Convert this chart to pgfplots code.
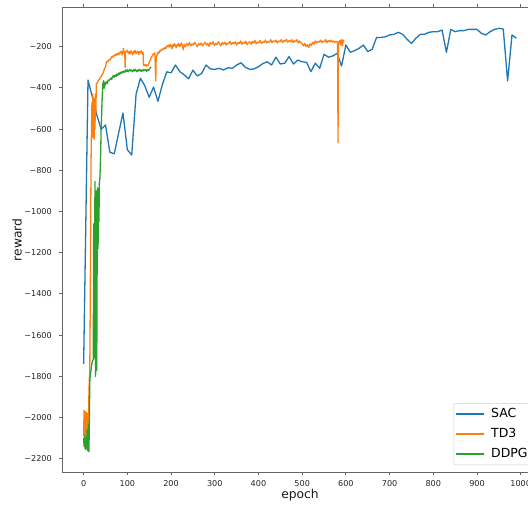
\documentclass[border=0pt]{standalone}
\usepackage{pgfplots}
\pgfplotsset{compat=1.18}
\usepackage{fontspec}
\setmainfont{DejaVu Sans}
\definecolor{tabblue}{HTML}{1F77B4}
\definecolor{taborange}{HTML}{FF7F0E}
\definecolor{tabgreen}{HTML}{2CA02C}
\begin{document}
\begin{tikzpicture}
\begin{axis}[
  at={(0,0)}, anchor=south west,
  scale only axis, width=476pt, height=464.5pt,
  xmin=-49.5, xmax=1039.5, ymin=-2264.6, ymax=-9.7,
  xtick={0,100,200,300,400,500,600,700,800,900,1000},
  xticklabels={0,100,200,300,400,500,600,700,800,900,1000},
  ytick={-2200,-2000,-1800,-1600,-1400,-1200,-1000,-800,-600,-400,-200},
  yticklabels={−2200,−2000,−1800,−1600,−1400,−1200,−1000,−800,−600,−400,−200},
  tick align=outside, major tick length=3pt,
  tick style={black!60, line width=0.8pt},
  axis line style={black!60, line width=0.8pt},
  ticklabel style={font=\fontsize{8.1}{9}\selectfont, text=black!85},
  xticklabel style={inner sep=0pt, yshift=-5.5pt},
  yticklabel style={inner sep=0pt, xshift=-7pt},
  xlabel={epoch}, ylabel={reward},
  label style={font=\fontsize{12.3}{14}\selectfont, text=black!90},
  xlabel style={at={(axis description cs:0.5,-0.0495)}, anchor=center},
  ylabel style={at={(axis description cs:-0.0945,0.5)}, anchor=center, rotate=0},
  legend cell align=left,
  legend image code/.code={\draw[#1, line width=1.3pt] (0pt,0pt) -- (28pt,0pt);},
  legend style={at={(axis description cs:0.985,0.015)}, anchor=south east,
    draw=black!20, rounded corners=2pt, fill=white,
    font=\fontsize{12.5}{14}\selectfont, inner xsep=1pt, inner ysep=3pt,
    row sep=4.5pt, column sep=5pt,
    nodes={inner sep=2pt, text height=9pt, text depth=2.5pt}},
]
\addplot[tabblue, line width=1.3pt, line join=round] coordinates {
(0,-1740)(10,-362)(20,-445)(30,-530)(40,-601)(50,-580)(60,-712)(70,-720)(80,-620)(90,-522)
(100,-700)(110,-726)(120,-430)(130,-353)(140,-390)(150,-445)(160,-396)(170,-465)(180,-385)(190,-322)
(200,-327)(210,-289)(220,-321)(230,-337)(240,-356)(250,-314)(260,-342)(270,-330)(280,-289)(290,-308)
(300,-310)(310,-305)(320,-313)(330,-302)(340,-305)(350,-289)(360,-278)(370,-300)(380,-310)(390,-308)
(400,-297)(410,-282)(420,-273)(430,-289)(440,-251)(450,-284)(460,-280)(470,-248)(480,-284)(490,-265)
(500,-273)(510,-276)(520,-321)(530,-280)(540,-305)(550,-237)(560,-251)(570,-245)(580,-232)(590,-294)
(600,-192)(610,-227)(620,-219)(630,-208)(640,-192)(650,-224)(660,-213)(670,-156)(680,-155)(690,-152)
(700,-143)(710,-140)(720,-130)(730,-140)(740,-164)(750,-184)(760,-159)(770,-140)(780,-140)(790,-130)
(800,-127)(810,-127)(820,-119)(830,-227)(840,-116)(850,-127)(860,-122)(870,-122)(880,-116)(890,-116)
(900,-116)(910,-135)(920,-143)(930,-127)(940,-116)(950,-111)(960,-114)(970,-366)(980,-143)(990,-159)
};
\addlegendentry{SAC}
\addplot[taborange, line width=1.3pt, line join=round] coordinates {
(0,-2090)(1,-1965)(2,-2120)(3,-1970)(4,-2140)(5,-2080)(6,-1975)(7,-2130)(8,-1980)(9,-2100)
(10,-2140)(11,-2000)(12,-1900)(13,-1810)(14,-1790)(15,-1500)(16,-1100)(17,-750)(18,-600)(19,-470)
(20,-640)(21,-430)(22,-560)(23,-450)(24,-650)(25,-480)(26,-600)(27,-430)(28,-520)(29,-380)
(30,-378)(32,-372)(34,-362)(36,-360)(38,-350)(40,-345)(42,-337)(44,-330)(46,-318)(48,-305)
(50,-300)(52,-275)(54,-270)(56,-273)(58,-262)(60,-265)(62,-258)(64,-249)(66,-252)(68,-243)
(70,-246)(72,-238)(74,-242)(76,-234)(78,-240)(80,-230)(82,-236)(84,-226)(86,-222)(88,-240)
(90,-228)(91,-208)(92,-230)(94,-226)(95,-300)(96,-228)(98,-222)(100,-218)(102,-232)(104,-224)
(106,-236)(108,-220)(110,-228)(112,-240)(114,-222)(116,-230)(118,-218)(120,-234)(122,-226)(124,-222)
(126,-238)(128,-224)(130,-230)(132,-220)(134,-236)(136,-226)(137,-290)(139,-292)(141,-286)(143,-295)
(145,-288)(147,-292)(149,-284)(151,-270)(153,-262)(155,-250)(157,-245)(159,-235)(161,-238)(163,-230)
(165,-365)(166,-250)(168,-240)(170,-226)(172,-232)(174,-220)(176,-222)(178,-214)(180,-216)(182,-208)
(184,-212)(186,-204)(188,-210)(190,-196)(192,-200)(194,-192)(196,-202)(198,-188)(200,-196)(202,-210)
(204,-190)(206,-198)(208,-186)(210,-194)(212,-205)(214,-188)(216,-196)(218,-184)(220,-200)(222,-190)
(224,-182)(226,-196)(228,-215)
(230,-188)(233,-200)(236,-184)(239,-194)(242,-180)(245,-196)(248,-186)(251,-192)(254,-178)(257,-190)
(260,-200)(263,-184)(266,-192)(269,-182)(272,-196)(275,-186)(278,-178)(281,-192)(284,-184)(287,-198)
(290,-180)(293,-188)(296,-176)(299,-194)(302,-184)(305,-190)(308,-176)(311,-186)(314,-196)(317,-180)
(320,-188)(323,-178)(326,-192)(329,-182)(332,-186)(335,-174)(338,-190)(341,-180)(344,-186)(347,-176)
(350,-192)(353,-180)(356,-184)(359,-172)(362,-188)(365,-178)(368,-184)(371,-174)(374,-190)(377,-180)
(380,-176)(383,-188)(386,-174)(389,-182)(392,-170)(395,-186)(398,-178)(401,-182)(404,-170)(407,-184)
(410,-176)(413,-180)(416,-168)(419,-182)(422,-174)(425,-178)(428,-166)(431,-180)(434,-172)(437,-176)
(440,-168)(443,-182)(446,-172)(449,-176)(452,-166)(455,-180)(458,-170)(461,-174)(464,-164)(467,-178)
(470,-170)(473,-176)(476,-166)(479,-180)(482,-170)(485,-176)(488,-166)(491,-182)(494,-172)(497,-180)
(500,-186)(503,-196)(506,-184)(509,-200)(512,-190)(515,-204)(518,-186)(521,-194)(524,-178)(527,-188)
(530,-172)(533,-182)(536,-174)(539,-178)(542,-168)(545,-180)(548,-172)(551,-176)(554,-166)(557,-180)
(560,-170)(563,-176)(566,-168)(569,-178)(572,-172)(575,-180)(578,-174)(581,-178)(582,-666)(583,-182)
(586,-170)(588,-192)(590,-165)(592,-196)(594,-168)(596,-178)
};
\addlegendentry{TD3}
\addplot[tabgreen, line width=1.3pt, line join=round] coordinates {
(0,-2100)(1,-2140)(2,-2090)(3,-2150)(4,-2110)(5,-2155)(6,-2095)(7,-2140)(8,-2060)(9,-2160)
(10,-2120)(11,-2035)(12,-2165)(13,-2050)(14,-1830)(15,-1800)(16,-1785)(17,-1770)(18,-1750)(19,-1735)
(20,-1728)(21,-1722)(22,-1720)(23,-1060)(24,-1710)(25,-1180)(26,-855)(27,-1800)(28,-1765)(29,-900)
(30,-1770)(31,-1190)(32,-885)(33,-1180)(34,-900)(35,-1050)(36,-860)(37,-845)(38,-790)(39,-716)
(40,-600)(41,-540)(42,-470)(43,-420)(44,-380)(45,-372)(46,-365)(47,-402)(48,-390)(49,-375)
(50,-385)(52,-370)(54,-378)(56,-362)(58,-365)(60,-358)(62,-352)(64,-360)(66,-346)(68,-340)
(70,-348)(72,-337)(74,-345)(76,-333)(78,-340)(80,-328)(82,-334)(84,-324)(86,-330)(88,-321)
(90,-326)(92,-318)(94,-324)(96,-313)(98,-320)(100,-312)(102,-322)(104,-316)(106,-310)(108,-318)
(110,-314)(112,-322)(114,-312)(116,-318)(118,-310)(120,-316)(122,-322)(124,-312)(126,-318)(128,-310)
(130,-316)(132,-320)(134,-312)(136,-318)(138,-310)(140,-316)(142,-312)(144,-320)(146,-310)(148,-316)
(150,-310)(152,-305)(154,-297)
};
\addlegendentry{DDPG}
\end{axis}
\pgfresetboundingbox
\path[use as bounding box] (-62pt,-32pt) rectangle (466pt,472pt);
\end{tikzpicture}
\end{document}
